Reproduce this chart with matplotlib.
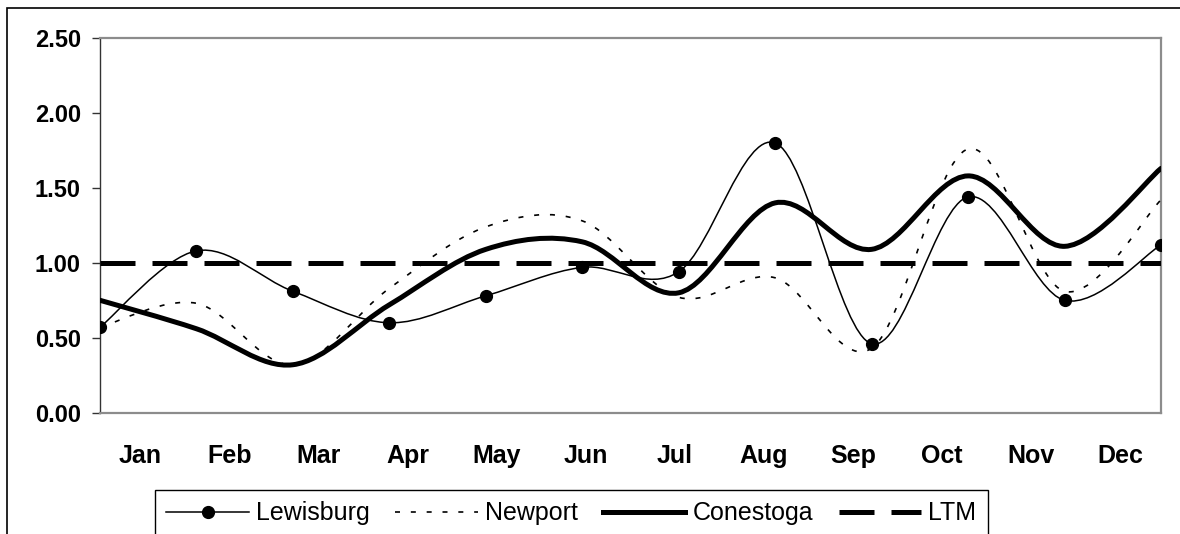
import numpy as np
import matplotlib
matplotlib.use("Agg")
import matplotlib.pyplot as plt
from matplotlib.path import Path
from matplotlib.patches import PathPatch, Rectangle
from matplotlib.lines import Line2D

plt.rcParams['font.family'] = ['Liberation Sans', 'DejaVu Sans']

months = ["Jan", "Feb", "Mar", "Apr", "May", "Jun", "Jul", "Aug", "Sep", "Oct", "Nov", "Dec"]
lewisburg = [0.57, 1.08, 0.81, 0.60, 0.78, 0.97, 0.94, 1.80, 0.46, 1.44, 0.75, 1.12]
newport = [0.57, 0.73, 0.32, 0.83, 1.24, 1.28, 0.77, 0.90, 0.43, 1.76, 0.81, 1.42]
conestoga = [0.75, 0.56, 0.32, 0.72, 1.09, 1.14, 0.80, 1.40, 1.09, 1.58, 1.11, 1.63]
ltm = [1.0] * 12
yticks = [0.0, 0.5, 1.0, 1.5, 2.0, 2.5]


def smoothPath(xs, ys):     # Excel style smoothed line: Catmull-Rom turned into bezier segments
    pts = np.column_stack([xs, ys]).astype(float)
    padded = np.vstack([pts[0], pts, pts[-1]])
    verts = [pts[0]]
    codes = [Path.MOVETO]
    for i in range(len(pts) - 1):
        p0, p1, p2, p3 = padded[i], padded[i + 1], padded[i + 2], padded[i + 3]
        verts += [p1 + (p2 - p0) / 6, p2 - (p3 - p1) / 6, p2]
        codes += [Path.CURVE4] * 3
    return Path(verts, codes)


W, H = 1180, 534
fig = plt.figure(figsize=(W / 100, H / 100), dpi=100)
ax = fig.add_axes([100 / W, 1 - 412.7 / H, 1061 / W, 374.7 / H])

x = np.arange(len(months))

ax.add_patch(PathPatch(smoothPath(x, lewisburg), fill=False, color="black", lw=1.1, zorder=3))
ax.plot(x, lewisburg, "o", color="black", ms=8.5, zorder=4)
ax.add_patch(PathPatch(smoothPath(x, newport), fill=False, color="black", lw=1.2,
                       linestyle=(0, (3.0, 6.5)), zorder=3))
ax.add_patch(PathPatch(smoothPath(x, conestoga), fill=False, color="black", lw=3.6,
                       capstyle="round", joinstyle="round", zorder=3))
ax.plot(x, ltm, color="black", lw=3.6, linestyle=(0, (7.0, 3.4)), zorder=5)

ax.set_xlim(0, 11)
ax.set_ylim(0, 2.5)
ax.set_yticks(yticks)
ax.set_yticklabels([f"{v:.2f}" for v in yticks], fontsize=17, fontweight="bold")
ax.set_xticks(np.linspace(0.415, 10.58, 12))
ax.set_xticklabels(months, fontsize=18, fontweight="bold")
ax.tick_params(axis="y", length=5.8, width=1.0, pad=8.0, color="#333333")
ax.tick_params(axis="x", length=0, pad=22.5)

for side in ["top", "right", "bottom"]:
    ax.spines[side].set_color("#8c8c8c")
    ax.spines[side].set_linewidth(1.6)
ax.spines["left"].set_color("#333333")
ax.spines["left"].set_linewidth(1.0)

# outer chart border, runs off the right and bottom of the picture
fig.add_artist(Rectangle((7 / W, -0.5), 2.0, 1.5 - 8 / H, transform=fig.transFigure,
                         fill=False, edgecolor="black", lw=1.2))

handles = [
    Line2D([], [], color="black", lw=1.1, marker="o", ms=8.5),
    Line2D([], [], color="black", lw=1.2, linestyle=(0, (3.0, 6.5))),
    Line2D([], [], color="black", lw=3.6),
    Line2D([], [], color="black", lw=3.6, linestyle=(0, (7.0, 3.4))),
]
leg = fig.legend(handles, ["Lewisburg", "Newport", "Conestoga", "LTM"], loc="upper left",
                 bbox_to_anchor=(155 / W, 1 - 490 / H), ncol=4, fontsize=18, numpoints=1,
                 borderaxespad=0, handlelength=3.3, handletextpad=0.3, columnspacing=1.0,
                 borderpad=0.45, fancybox=False, edgecolor="black", framealpha=1)
leg.get_frame().set_linewidth(1.0)

fig.savefig("out.png", dpi=100)
